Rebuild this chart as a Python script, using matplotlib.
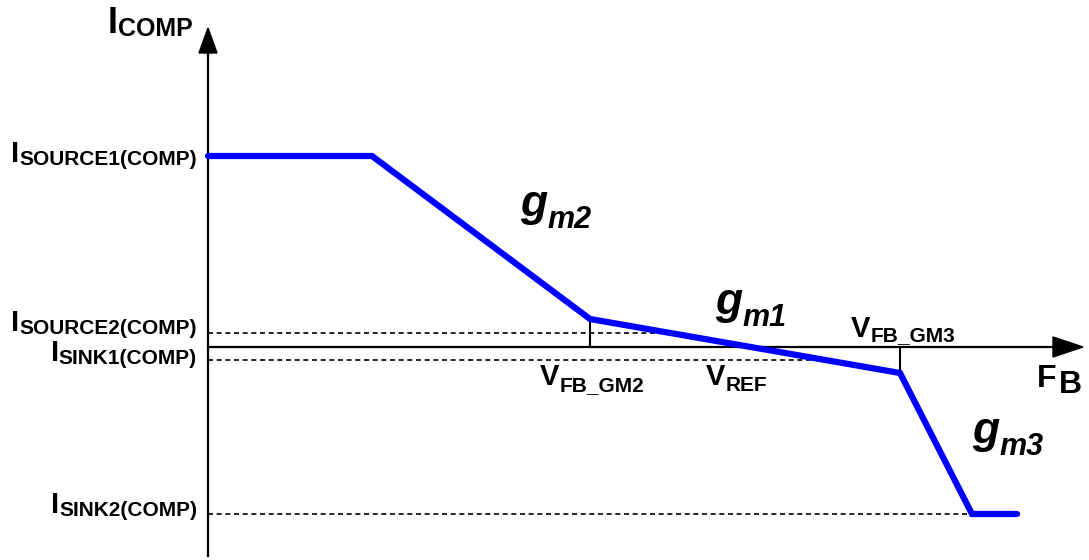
import matplotlib
matplotlib.use('Agg')
import matplotlib.pyplot as plt
from matplotlib.patches import Polygon

plt.rcParams['font.family'] = ['Liberation Sans', 'DejaVu Sans']

# transfer curve of the COMP pin current against FB (origin at axis crossing)
fb = [0, 164, 382, 692, 764, 809]
i_comp = [191, 191, 28, -26, -167, -167]

# current levels marked on the vertical axis
lvl_names = ['SOURCE1(COMP)', 'SOURCE2(COMP)', 'SINK1(COMP)', 'SINK2(COMP)']
lvl_values = [191, 14, -13, -167]
lvl_dash_end = [0, 460, 614, 764]

# FB break points
v_gm2 = 382
v_gm3 = 692

fig = plt.figure(figsize=(10.89, 5.6), dpi=100)
ax = fig.add_axes([0, 0, 1, 1])
ax.set_xlim(-208, 881)
ax.set_ylim(-213, 347)
ax.axis('off')

# axes with arrow heads
ax.plot([0, 0], [-209, 294], color='black', lw=1.6, zorder=2)
ax.plot([0, 845], [0, 0], color='black', lw=1.6, zorder=2)
ax.add_patch(Polygon([[-9, 294], [9, 294], [0, 319]], closed=True, color='black'))
ax.add_patch(Polygon([[845, 10], [845, -10], [875, 0]], closed=True, color='black'))

# dotted reference levels
for v, xe in zip(lvl_values[1:], lvl_dash_end[1:]):
    ax.plot([0, xe], [v, v], color='black', lw=1.2, ls=(0, (3, 2.2)), zorder=1)

# small ticks at the break points
ax.plot([v_gm2, v_gm2], [0, 28], color='black', lw=1.5, zorder=2)
ax.plot([v_gm3, v_gm3], [0, -26], color='black', lw=1.5, zorder=2)

ax.plot(fb, i_comp, color='#0000ff', lw=4.5, solid_capstyle='round',
        solid_joinstyle='miter', zorder=3)

r = fig.canvas.get_renderer()


def sub_label(x, y, main, sub, size, subsize, drop, ha='left', style='normal'):
    kw = dict(fontweight='bold', style=style, va='baseline', ha='left',
              textcoords='offset pixels', annotation_clip=False)
    t1 = ax.annotate(main, (x, y), xytext=(0, 0), fontsize=size, **kw)
    t2 = ax.annotate(sub, (x, y), xytext=(0, 0), fontsize=subsize, **kw)
    w1 = t1.get_window_extent(r).width
    w2 = t2.get_window_extent(r).width
    shift = -(w1 + w2) if ha == 'right' else 0
    t1.xyann = (shift, 0)
    t2.xyann = (shift + w1, -drop)


# vertical axis title
sub_label(-100, 314, 'I', 'COMP', 26, 18, 3)

# current level labels, right aligned next to the axis
lvl_base = [185, 16, -14, -166]
for name, yb in zip(lvl_names, lvl_base):
    sub_label(-11, yb, 'I', name, 21, 15, 3, ha='right')

# FB voltages
sub_label(332, -38, 'V', 'FB_GM2', 21, 15, 6)
sub_label(498, -38, 'V', 'REF', 21, 15, 6)
sub_label(643, 10, 'V', 'FB_GM3', 21, 15, 4)

# transconductance labels
sub_label(312, 131, 'g', 'm2', 32, 22, 12, style='italic')
sub_label(507, 33, 'g', 'm1', 32, 22, 12, style='italic')
sub_label(764, -96, 'g', 'm3', 32, 22, 12, style='italic')

# horizontal axis title
ax.text(829, -40, 'F', fontsize=23, fontweight='bold', va='baseline')
ax.text(851, -46, 'B', fontsize=23, fontweight='bold', va='baseline')

fig.savefig('out.png', dpi=100)
